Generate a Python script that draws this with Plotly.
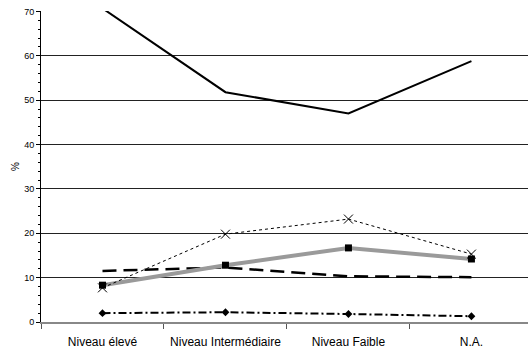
import plotly.graph_objects as go

categories = ["Niveau élevé", "Niveau Intermédiaire", "Niveau Faible", "N.A."]

serie_solide = [70.7, 51.8, 47.0, 58.8]
serie_croix = [7.7, 19.8, 23.2, 15.3]
serie_gris = [8.3, 12.8, 16.7, 14.2]
serie_tirets = [11.5, 12.3, 10.3, 10.1]
serie_losanges = [2.0, 2.2, 1.8, 1.3]

fig = go.Figure()

fig.add_trace(go.Scatter(x=categories, y=serie_solide, mode="lines",
                         line=dict(color="black", width=2)))
fig.add_trace(go.Scatter(x=categories, y=serie_tirets, mode="lines",
                         line=dict(color="black", width=2.5, dash="14px,7px")))
fig.add_trace(go.Scatter(x=categories, y=serie_gris, mode="lines+markers",
                         line=dict(color="#9a9a9a", width=4),
                         marker=dict(symbol="square", size=7, color="black")))
fig.add_trace(go.Scatter(x=categories, y=serie_croix, mode="lines+markers",
                         line=dict(color="black", width=1, dash="dot"),
                         marker=dict(symbol="x-thin-open", size=9,
                                     line=dict(color="black", width=1))))
fig.add_trace(go.Scatter(x=categories, y=serie_losanges, mode="lines+markers",
                         line=dict(color="black", width=2, dash="8px,3px,2px,3px"),
                         marker=dict(symbol="diamond", size=6, color="black")))

fig.update_layout(
    width=528, height=360,
    showlegend=False,
    plot_bgcolor="white", paper_bgcolor="white",
    margin=dict(l=41, r=0, t=11, b=38, autoexpand=False),
    font=dict(family="Arial, Liberation Sans", color="black"),
    xaxis=dict(type="category", range=[-0.5, 3.46], tickson="boundaries",
               ticks="outside", ticklen=5, tickcolor="#555",
               showline=True, linecolor="#888", linewidth=2,
               showgrid=False, tickangle=0, automargin=False,
               tickfont=dict(size=12, family="Liberation Sans Narrow, Arial"),
               ticklabelstandoff=8),
    yaxis=dict(range=[0, 70.1], tickvals=[0, 10, 20, 30, 40, 50, 60, 70],
               ticks="outside", ticklen=4,
               tickcolor="black", showline=True, linecolor="black", linewidth=1,
               showgrid=True, gridcolor="#222", gridwidth=1, automargin=False,
               zeroline=False, tickfont=dict(size=9),
               minor=dict(dtick=2, ticks="outside", ticklen=2, tickcolor="black",
                          showgrid=False),
               title=dict(text="%", font=dict(size=10), standoff=2)),
)

# la page a une marge de 8 px par défaut : on la supprime
fig.write_html("out.html", config={"displayModeBar": False},
               post_script="document.body.style.margin='0px';")
